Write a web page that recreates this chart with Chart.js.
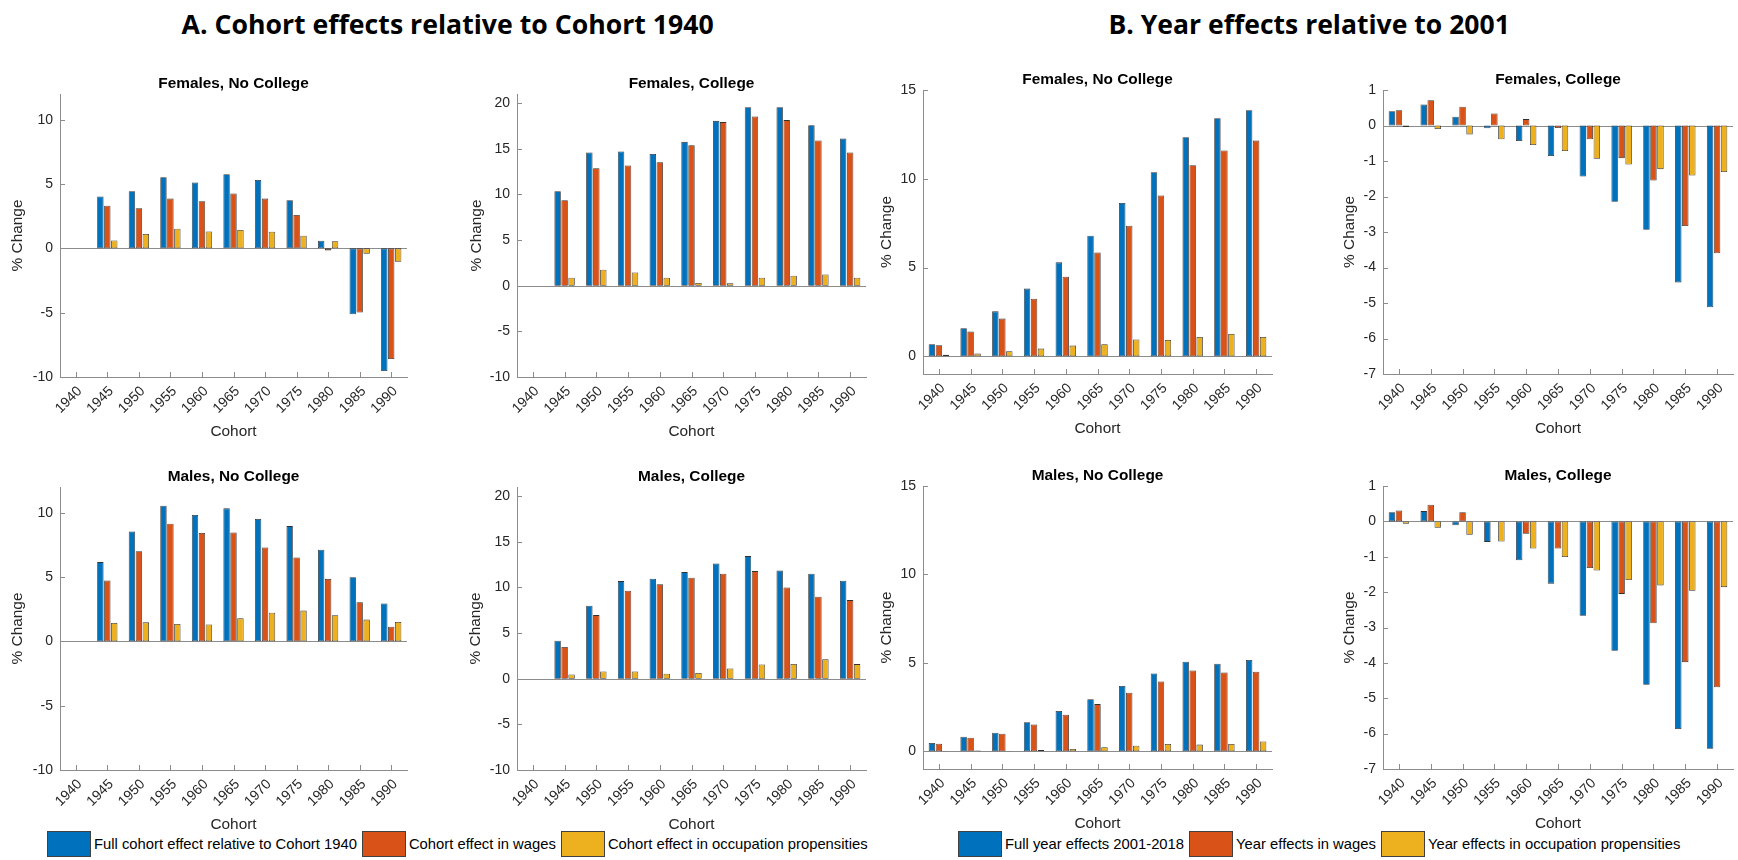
<!DOCTYPE html>
<html lang="en">
<head>
<meta charset="UTF-8">
<title>Cohort and year effects</title>
<style>
    html, body { margin: 0; padding: 0; background: #fff; overflow: hidden; }
    body { width: 1738px; height: 860px; position: relative; font-family: "Liberation Sans", Arial, sans-serif; }
    .panel { position: absolute; }
    .main-title {
        position: absolute;
        top: 5px;
        font-family: "Liberation Sans Narrow", "Open Sans", sans-serif;
        font-weight: 700;
        font-size: 27px;
        white-space: nowrap;
        transform-origin: center center;
        color: #000;
    }
    .legend { position: absolute; top: 831px; display: flex; align-items: center; white-space: nowrap; font-size: 14.8px; color: #000; }
    .legend .item { display: flex; align-items: center; margin-right: 5px; }
    .legend .box { width: 44px; height: 26px; border: 1px solid #404040; box-sizing: border-box; margin-right: 3px; }
</style>
</head>
<body>
<div class="main-title" id="titleA">A. Cohort effects relative to Cohort 1940</div>
<div class="main-title" id="titleB">B. Year effects relative to 2001</div>
<div class="legend" id="legendA" style="left:47px"></div>
<div class="legend" id="legendB" style="left:958px"></div>

<script src="https://cdn.jsdelivr.net/npm/chart.js"></script>
<script>
// categories
const cohorts = ['1940', '1945', '1950', '1955', '1960', '1965', '1970', '1975', '1980', '1985', '1990'];

const cohortSeriesNames = ['Full cohort effect relative to Cohort 1940', 'Cohort effect in wages', 'Cohort effect in occupation propensities'];
const yearSeriesNames = ['Full year effects 2001-2018', 'Year effects in wages', 'Year effects in occupation propensities'];

// A. cohort effects relative to cohort 1940
const femNoColCohortFull = [0, 4.03, 4.44, 5.53, 5.12, 5.77, 5.32, 3.74, 0.60, -5.12, -9.53];
const femNoColCohortWage = [0, 3.32, 3.12, 3.87, 3.66, 4.26, 3.87, 2.60, -0.16, -4.99, -8.60];
const femNoColCohortOcc  = [0, 0.62, 1.12, 1.53, 1.32, 1.43, 1.30, 0.99, 0.55, -0.42, -1.04];

const femColCohortFull = [0, 10.35, 14.59, 14.70, 14.44, 15.76, 18.06, 19.56, 19.56, 17.59, 16.12];
const femColCohortWage = [0, 9.36, 12.87, 13.16, 13.53, 15.39, 17.92, 18.54, 18.14, 15.90, 14.59];
const femColCohortOcc  = [0, 0.88, 1.76, 1.46, 0.88, 0.29, 0.26, 0.88, 1.10, 1.24, 0.88];

const maleNoColCohortFull = [0, 6.16, 8.55, 10.55, 9.82, 10.34, 9.51, 8.96, 7.12, 4.99, 2.94];
const maleNoColCohortWage = [0, 4.73, 7.01, 9.14, 8.42, 8.47, 7.30, 6.52, 4.86, 3.04, 1.14];
const maleNoColCohortOcc  = [0, 1.43, 1.48, 1.35, 1.32, 1.79, 2.23, 2.39, 2.03, 1.69, 1.51];

const maleColCohortFull = [0, 4.16, 7.99, 10.69, 10.95, 11.68, 12.63, 13.43, 11.86, 11.50, 10.73];
const maleColCohortWage = [0, 3.47, 6.97, 9.64, 10.36, 11.06, 11.50, 11.79, 10.00, 8.98, 8.61];
const maleColCohortOcc  = [0, 0.47, 0.80, 0.80, 0.55, 0.62, 1.13, 1.57, 1.61, 2.12, 1.60];

// B. year effects relative to 2001
const femNoColYearFull = [0.68, 1.58, 2.53, 3.81, 5.29, 6.79, 8.63, 10.37, 12.34, 13.41, 13.86];
const femNoColYearWage = [0.62, 1.39, 2.12, 3.24, 4.48, 5.85, 7.35, 9.06, 10.76, 11.59, 12.15];
const femNoColYearOcc  = [0.08, 0.15, 0.28, 0.43, 0.60, 0.68, 0.94, 0.92, 1.09, 1.26, 1.09];

const femColYearFull = [0.40, 0.59, 0.25, -0.08, -0.44, -0.86, -1.44, -2.15, -2.94, -4.42, -5.12];
const femColYearWage = [0.43, 0.71, 0.53, 0.34, 0.18, -0.07, -0.39, -0.92, -1.55, -2.83, -3.60];
const femColYearOcc  = [-0.04, -0.10, -0.25, -0.39, -0.55, -0.72, -0.94, -1.10, -1.23, -1.41, -1.31];

const maleNoColYearFull = [0.47, 0.83, 1.05, 1.64, 2.28, 2.95, 3.69, 4.40, 5.06, 4.95, 5.16];
const maleNoColYearWage = [0.43, 0.77, 1.00, 1.52, 2.07, 2.67, 3.31, 3.95, 4.57, 4.46, 4.50];
const maleNoColYearOcc  = [0.02, 0.04, 0.02, 0.08, 0.13, 0.23, 0.32, 0.41, 0.38, 0.41, 0.56];

const maleColYearFull = [0.26, 0.29, -0.11, -0.58, -1.10, -1.76, -2.67, -3.66, -4.62, -5.87, -6.43];
const maleColYearWage = [0.31, 0.47, 0.26, -0.02, -0.35, -0.77, -1.32, -2.05, -2.88, -3.98, -4.69];
const maleColYearOcc  = [-0.07, -0.18, -0.38, -0.57, -0.77, -1.01, -1.39, -1.66, -1.81, -1.96, -1.86];

// tick labels of the value axes
const cohortNoColTicks = [-10, -5, 0, 5, 10];
const cohortColTicks = [-10, -5, 0, 5, 10, 15, 20];
const yearNoColTicks = [0, 5, 10, 15];
const yearColTicks = [1, 0, -1, -2, -3, -4, -5, -6, -7];

const seriesColors = ['#0072BD', '#D95319', '#EDB120'];

// panel placement: plot area box in page pixels
const panels = [
    { title: 'Females, No College', x: 60,   y: 94,  w: 347, h: 283, min: -10, max: 12, ticks: cohortNoColTicks, gap: 42,
      series: [femNoColCohortFull, femNoColCohortWage, femNoColCohortOcc], names: cohortSeriesNames },
    { title: 'Females, College',    x: 517,  y: 94,  w: 349, h: 283, min: -10, max: 21, ticks: cohortColTicks, gap: 40,
      series: [femColCohortFull, femColCohortWage, femColCohortOcc], names: cohortSeriesNames },
    { title: 'Females, No College', x: 923,  y: 90,  w: 349, h: 284, min: -1, max: 15, ticks: yearNoColTicks, gap: 36,
      series: [femNoColYearFull, femNoColYearWage, femNoColYearOcc], names: yearSeriesNames },
    { title: 'Females, College',    x: 1383, y: 90,  w: 350, h: 284, min: -7, max: 1, ticks: yearColTicks, gap: 33,
      series: [femColYearFull, femColYearWage, femColYearOcc], names: yearSeriesNames },
    { title: 'Males, No College',   x: 60,   y: 487, w: 347, h: 283, min: -10, max: 12, ticks: cohortNoColTicks, gap: 42,
      series: [maleNoColCohortFull, maleNoColCohortWage, maleNoColCohortOcc], names: cohortSeriesNames },
    { title: 'Males, College',      x: 517,  y: 487, w: 349, h: 283, min: -10, max: 21, ticks: cohortColTicks, gap: 41,
      series: [maleColCohortFull, maleColCohortWage, maleColCohortOcc], names: cohortSeriesNames },
    { title: 'Males, No College',   x: 923,  y: 486, w: 349, h: 283, min: -1, max: 15, ticks: yearNoColTicks, gap: 36,
      series: [maleNoColYearFull, maleNoColYearWage, maleNoColYearOcc], names: yearSeriesNames },
    { title: 'Males, College',      x: 1383, y: 486, w: 350, h: 283, min: -7, max: 1, ticks: yearColTicks, gap: 33,
      series: [maleColYearFull, maleColYearWage, maleColYearOcc], names: yearSeriesNames }
];

Chart.defaults.font.family = '"Liberation Sans", Arial, Helvetica, sans-serif';
Chart.defaults.color = '#262626';

const axisGrey = '#8c8c8c';
const PAD_L = 60, PAD_R = 60, PAD_T = 45, PAD_B = 75;
const TITLE_SIZE = 15.4, LABEL_SIZE = 15.4, TICK_SIZE = 14;

// zero baseline plus MATLAB style inward tick marks
const axisMarks = {
    id: 'axisMarks',
    beforeDatasetsDraw(chart) {
        const { ctx, chartArea: a, scales: { x, y } } = chart;
        ctx.save();
        ctx.strokeStyle = axisGrey;
        ctx.lineWidth = 1;
        ctx.beginPath();
        const y0 = Math.round(y.getPixelForValue(0)) + 0.5;
        ctx.moveTo(a.left, y0);
        ctx.lineTo(a.right, y0);
        y.ticks.forEach(t => {
            const py = Math.round(y.getPixelForValue(t.value)) + 0.5;
            ctx.moveTo(a.left, py);
            ctx.lineTo(a.left + 5, py);
        });
        x.ticks.forEach((t, i) => {
            const px = Math.round(x.getPixelForTick(i)) + 0.5;
            ctx.moveTo(px, a.bottom);
            ctx.lineTo(px, a.bottom - 5);
        });
        ctx.stroke();
        ctx.restore();
    }
};

function makePanel(p) {
    const width = p.w + PAD_L + PAD_R;
    const height = p.h + PAD_T + PAD_B;
    const holder = document.createElement('div');
    holder.className = 'panel';
    holder.style.left = (p.x - PAD_L) + 'px';
    holder.style.top = (p.y - PAD_T) + 'px';
    const canvas = document.createElement('canvas');
    canvas.width = width;
    canvas.height = height;
    canvas.style.width = width + 'px';
    canvas.style.height = height + 'px';
    holder.appendChild(canvas);
    document.body.appendChild(holder);

    const titleGap = 10.5; // plot top to title centre
    const lh = TITLE_SIZE * 1.2;

    new Chart(canvas, {
        type: 'bar',
        data: {
            labels: cohorts,
            datasets: p.series.map((vals, i) => ({
                label: p.names[i],
                data: vals,
                backgroundColor: seriesColors[i],
                borderColor: '#303030',
                borderWidth: 0.8,
                borderSkipped: false,
                categoryPercentage: 0.66,
                barPercentage: 0.92
            }))
        },
        options: {
            responsive: false,
            animation: false,
            layout: { padding: { left: 0, right: PAD_R, top: 0, bottom: 0 } },
            plugins: {
                legend: { display: false },
                tooltip: { enabled: false },
                title: {
                    display: true,
                    text: p.title,
                    fullSize: false,
                    color: '#000',
                    font: { size: TITLE_SIZE, weight: 'bold' },
                    padding: { top: PAD_T - titleGap - lh / 2, bottom: titleGap - lh / 2 }
                }
            },
            scales: {
                x: {
                    grid: { display: false, drawTicks: false },
                    border: { display: true, color: axisGrey },
                    ticks: { autoSkip: false, minRotation: 45, maxRotation: 45, padding: 6, labelOffset: 4, font: { size: TICK_SIZE } },
                    title: { display: true, text: 'Cohort', font: { size: LABEL_SIZE }, padding: { top: 0, bottom: 20 - LABEL_SIZE * 0.6 } },
                    afterFit: s => { s.height = PAD_B; }
                },
                y: {
                    min: p.min,
                    max: p.max,
                    grid: { display: false, drawTicks: false },
                    border: { display: true, color: axisGrey },
                    ticks: { padding: 7, font: { size: TICK_SIZE } },
                    afterBuildTicks: s => { s.ticks = p.ticks.map(v => ({ value: v })); },
                    title: { display: true, text: '% Change', font: { size: LABEL_SIZE }, padding: { top: PAD_L - p.gap - LABEL_SIZE * 0.6, bottom: 0 } },
                    afterFit: s => { s.width = PAD_L; }
                }
            }
        },
        plugins: [axisMarks]
    });
}

panels.forEach(makePanel);

// shared legends below each block
function buildLegend(id, names) {
    const el = document.getElementById(id);
    names.forEach((name, i) => {
        const item = document.createElement('div');
        item.className = 'item';
        const box = document.createElement('div');
        box.className = 'box';
        box.style.background = seriesColors[i];
        const label = document.createElement('span');
        label.textContent = name;
        item.appendChild(box);
        item.appendChild(label);
        el.appendChild(item);
    });
}
buildLegend('legendA', cohortSeriesNames);
buildLegend('legendB', yearSeriesNames);

// block titles, squeezed to the reference width
function placeTitle(id, centre, targetWidth) {
    const el = document.getElementById(id);
    const w = el.offsetWidth;
    el.style.left = (centre - w / 2) + 'px';
    el.style.transform = 'scaleX(' + (targetWidth / w) + ')';
}
placeTitle('titleA', 447, 532);
placeTitle('titleB', 1309, 401);
</script>
</body>
</html>
